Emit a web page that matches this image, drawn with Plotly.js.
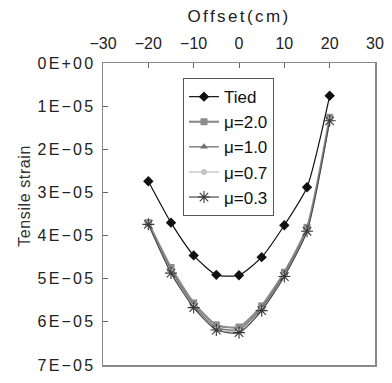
<!DOCTYPE html>
<html>
<head>
<meta charset="utf-8">
<script src="https://cdn.plot.ly/plotly-3.0.1.min.js"></script>
<style>
  html, body { margin: 0; padding: 0; background: #fff; }
  #chart { width: 392px; height: 383px; }
  .ytick text { letter-spacing: 2.2px; }
  .g-xtitle text { letter-spacing: 2.4px; }
  .annotation-text { letter-spacing: 0.6px; }
</style>
</head>
<body>
<div id="chart"></div>
<script>
// Offset (cm)
const offsets = [-20, -15, -10, -5, 0, 5, 10, 15, 20];
// Tensile strain series
const tied  = [2.74e-5, 3.70e-5, 4.46e-5, 4.91e-5, 4.92e-5, 4.50e-5, 3.76e-5, 2.88e-5, 0.76e-5];
const mu20  = [3.70e-5, 4.74e-5, 5.56e-5, 6.07e-5, 6.12e-5, 5.63e-5, 4.85e-5, 3.81e-5, 1.26e-5];
const mu10  = [3.72e-5, 4.80e-5, 5.62e-5, 6.13e-5, 6.18e-5, 5.68e-5, 4.90e-5, 3.86e-5, 1.30e-5];
const mu07  = [3.73e-5, 4.84e-5, 5.65e-5, 6.17e-5, 6.22e-5, 5.72e-5, 4.93e-5, 3.88e-5, 1.32e-5];
const mu03  = [3.74e-5, 4.87e-5, 5.67e-5, 6.19e-5, 6.25e-5, 5.74e-5, 4.95e-5, 3.90e-5, 1.34e-5];
const seriesNames = ['Tied', 'μ=2.0', 'μ=1.0', 'μ=0.7', 'μ=0.3'];
// Y tick labels
const yTickVals = [0, 1e-5, 2e-5, 3e-5, 4e-5, 5e-5, 6e-5, 7e-5];
const yTickText = ['0E+00', '1E\u221205', '2E\u221205', '3E\u221205', '4E\u221205', '5E\u221205', '6E\u221205', '7E\u221205'];

const font = 'Liberation Sans, Arial, sans-serif';

function tr(name, y, lineColor, lineWidth, symbol, mColor, mSize, mLine) {
  return {
    x: offsets, y: y, name: name, type: 'scatter', mode: 'lines+markers',
    line: { color: lineColor, width: lineWidth, shape: 'spline', smoothing: 0.6 },
    marker: { symbol: symbol, color: mColor, size: mSize, line: mLine || { width: 0 } }
  };
}

const data = [
  tr(seriesNames[0], tied, '#111', 1.2, 'diamond', '#111', 8),
  tr(seriesNames[1], mu20, '#8c8c8c', 2.2, 'square', '#8c8c8c', 7),
  tr(seriesNames[2], mu10, '#666', 1.2, 'triangle-up', '#707070', 7),
  tr(seriesNames[3], mu07, '#bdbdbd', 1.2, 'circle', '#c4c4c4', 6),
  tr(seriesNames[4], mu03, '#4a4a4a', 1.2, 'asterisk-open', '#3a3a3a', 10, { color: '#3a3a3a', width: 1.1 })
];

const layout = {
  width: 392, height: 383,
  margin: { l: 103, r: 17, t: 63, b: 18 },
  paper_bgcolor: '#fff', plot_bgcolor: '#fff',
  font: { family: font, color: '#222', size: 15 },
  showlegend: true,
  legend: {
    x: 0.294, y: 0.95, xanchor: 'left', yanchor: 'top',
    bgcolor: '#fff', bordercolor: '#555', borderwidth: 1,
    font: { family: font, size: 17, color: '#111' },
    tracegroupgap: 0
  },
  xaxis: {
    side: 'top', range: [-30, 30], dtick: 10, tick0: -30,
    showgrid: false, zeroline: false,
    showline: true, mirror: true, linecolor: '#8a8a8a', linewidth: 1.5,
    ticks: 'inside', ticklen: 5, tickcolor: '#666', tickwidth: 1,
    tickfont: { family: font, size: 16, color: '#222' },
    ticklabelstandoff: 6,
    title: { text: 'Offset(cm)', font: { family: font, size: 17, color: '#222' }, standoff: 8 }
  },
  yaxis: {
    range: [7e-5, 0], tickmode: 'array', tickvals: yTickVals, ticktext: yTickText,
    showgrid: false, zeroline: false,
    showline: true, mirror: true, linecolor: '#8a8a8a', linewidth: 1.5,
    ticks: 'inside', ticklen: 5, tickcolor: '#666', tickwidth: 1,
    tickfont: { family: font, size: 16, color: '#222' },
    ticklabelstandoff: 3
  },
  annotations: [{
    text: 'Tensile strain', xref: 'paper', yref: 'paper',
    x: -0.287, y: 0.56, xanchor: 'center', yanchor: 'middle',
    textangle: -90, showarrow: false,
    font: { family: font, size: 16, color: '#333' }
  }]
};

Plotly.newPlot('chart', data, layout, { displayModeBar: false, staticPlot: true });
</script>
</body>
</html>
